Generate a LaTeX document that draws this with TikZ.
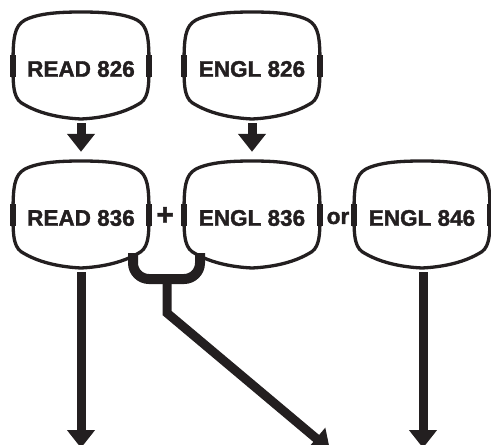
\documentclass[tikz,border=0pt]{standalone}
\usepackage{fontspec}
\setmainfont{Liberation Sans}[BoldFeatures={FakeBold=1.6}]
\usetikzlibrary{arrows.meta}
\definecolor{ink}{HTML}{231F20}
\tikzset{
  boxline/.style={draw=ink, line width=3.3pt},
  tabline/.style={draw=ink, line width=5.5pt},
  course/.style={minimum width=136pt, minimum height=108pt, inner sep=0pt,
    font=\bfseries\fontsize{22.5}{25}\selectfont, text=ink},
  flow/.style={draw=ink, line width=9pt, -{Triangle[width=27pt,length=18pt]}},
  joinline/.style={draw=ink, line width=10pt, rounded corners=16pt},
  sym/.style={font=\bfseries\fontsize{22.5}{25}\selectfont, text=ink, inner sep=0pt},
}
\newcommand\cushion[1]{%
  \begin{scope}[shift={([yshift=3pt]#1.center)}]
    \path[boxline] (-68,0)
      .. controls (-68,-28) and (-67,-40) .. (-56,-46)
      .. controls (-42,-53) and (-20,-54) .. (0,-54)
      .. controls (20,-54) and (42,-53) .. (56,-46)
      .. controls (67,-40) and (68,-28) .. (68,0)
      .. controls (68,24) and (67,34) .. (56,39)
      .. controls (40,48) and (20,52) .. (0,53)
      .. controls (-20,52) and (-40,48) .. (-56,39)
      .. controls (-67,34) and (-68,24) .. (-68,0) -- cycle;
    \path[tabline] (-68,-11) -- (-68,11) (68,-11) -- (68,11);
  \end{scope}}
\begin{document}
\begin{tikzpicture}[x=1pt,y=-1pt]
  \useasboundingbox (0,0) rectangle (491,445);
  \node[course] (r826) at (81,69) {READ 826};
  \node[course] (e826) at (252,69) {ENGL 826};
  \node[course] (r836) at (81,218) {READ 836};
  \node[course] (e836) at (252,218) {ENGL 836};
  \node[course] (e846) at (422,218) {ENGL 846};
  \cushion{r826}\cushion{e826}\cushion{r836}\cushion{e836}\cushion{e846}
  \node[sym, font=\bfseries\fontsize{30}{32}\selectfont] (plus) at (165,216) {+};
  \node[sym] (or) at (338,218) {or};
  \draw[flow, shorten >=12pt] (r826.south) -- (r836.north);
  \draw[flow, shorten >=12pt] (e826.south) -- (e836.north);
  \coordinate (d1) at (81,448);
  \coordinate (d3) at (423,448);
  \draw[flow] (r836.south) -- (d1);
  \draw[flow] ([xshift=1pt]e846.south) -- (d3);
  \coordinate (uL) at ([shift={(52,35)}]r836.center);
  \coordinate (uR) at ([shift={(-52,35)}]e836.center);
  \coordinate (ub) at (167,279);
  \coordinate (bend) at (167,313);
  \coordinate (d2) at (330,450);
  \draw[joinline] (uL) |- (ub) -| (uR);
  \draw[flow] (ub) -- (bend) -- (d2);
\end{tikzpicture}
\end{document}
